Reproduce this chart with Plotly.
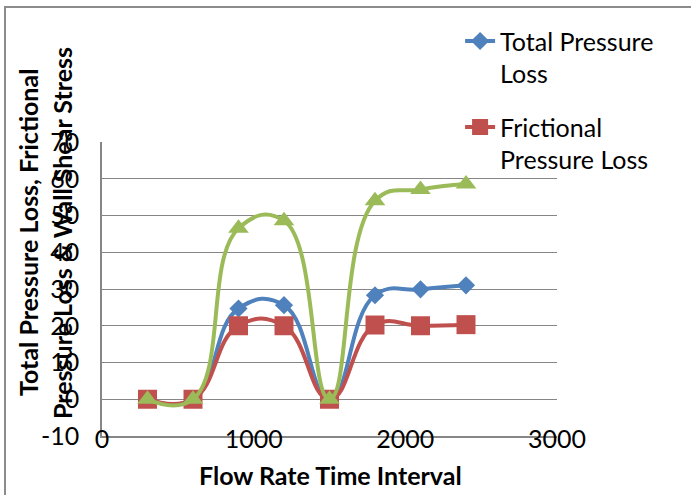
import plotly.graph_objects as go

x_values = [300, 600, 900, 1200, 1500, 1800, 2100, 2400]
total_pressure_loss = [0, 0, 24.7, 25.6, 0, 28.3, 29.9, 31.0]
frictional_pressure_loss = [0, 0, 20.0, 20.0, 0, 20.2, 20.0, 20.3]
wall_shear_stress = [0, 0, 46.5, 48.6, 0, 54.0, 57.1, 58.6]

x_ticks = [0, 1000, 2000, 3000]
y_ticks = [-10, 0, 10, 20, 30, 40, 50, 60, 70]
y_tick_text = ["-10", "0", "10", "20", "30", "40", "50", "60", "70"]

FONT = "Lato"
FS = 25
BLUE = "#4F81BD"
RED = "#C0504D"
GREEN = "#9BBB59"
GRID = "#868686"

fig = go.Figure()
fig.add_trace(go.Scatter(
    x=x_values, y=total_pressure_loss, name="Total Pressure<br>Loss", legendgroup="a",
    mode="lines+markers", line=dict(color=BLUE, width=4, shape="spline", smoothing=1.3),
    marker=dict(symbol="diamond", size=14, color=BLUE)))
fig.add_trace(go.Scatter(
    x=x_values, y=frictional_pressure_loss, name="Frictional<br>Pressure Loss", legendgroup="b",
    mode="lines+markers", line=dict(color=RED, width=4, shape="spline", smoothing=1.3),
    marker=dict(symbol="square", size=19, color=RED)))
fig.add_trace(go.Scatter(
    x=x_values, y=wall_shear_stress, name="Wall Shear Stress", showlegend=False, legendgroup="c",
    mode="lines+markers", line=dict(color=GREEN, width=4, shape="spline", smoothing=1.3),
    marker=dict(symbol="triangle-up", size=18, color=GREEN)))

fig.update_layout(
    width=691, height=495,
    margin=dict(l=102, r=134, t=142, b=59),
    paper_bgcolor="white", plot_bgcolor="white",
    font=dict(family=FONT, size=FS, color="black"),
    showlegend=True,
    legend=dict(x=0.787, y=1.421, xanchor="left", yanchor="top", valign="top",
                tracegroupgap=18, bgcolor="rgba(0,0,0,0)",
                font=dict(family=FONT, size=FS, color="black")),
    xaxis=dict(range=[0, 3000], tickvals=x_ticks, showgrid=False, zeroline=False,
               showline=True, linecolor=GRID, linewidth=1.5, ticks="", ticklabelstandoff=-20,
               tickfont=dict(family=FONT, size=FS, color="black")),
    yaxis=dict(range=[-10, 70], tickvals=y_ticks, ticktext=y_tick_text, showgrid=True,
               gridcolor=GRID, gridwidth=1,
               zeroline=False, showline=True, linecolor=GRID, linewidth=1.5, ticks="",
               ticklabelstandoff=16, tickfont=dict(family=FONT, size=FS, color="black")),
    shapes=[dict(type="rect", xref="paper", yref="paper",
                 x0=(5 - 102) / 455, x1=2.0, y0=-1.0, y1=(436 - 7) / 294,
                 line=dict(color="#8C8C8C", width=2), layer="below")],
    annotations=[
        dict(text="<b>Total Pressure Loss, Frictional</b>", xref="paper", yref="paper",
             x=(28 - 102) / 455, y=(436 - 233) / 294, xanchor="center", yanchor="middle",
             textangle=-90, showarrow=False, font=dict(family=FONT, size=FS, color="black")),
        dict(text="<b>Pressure Loss &amp; Wall Shear Stress</b>", xref="paper", yref="paper",
             x=(62 - 102) / 455, y=(436 - 233) / 294, xanchor="center", yanchor="middle",
             textangle=-90, showarrow=False, font=dict(family=FONT, size=FS, color="black")),
        dict(text="<b>Flow Rate Time Interval</b>", xref="paper", yref="paper",
             x=(330 - 102) / 455, y=(436 - 475) / 294, xanchor="center", yanchor="middle",
             showarrow=False, font=dict(family=FONT, size=FS, color="black")),
    ],
)

fig.write_html("out.html")
